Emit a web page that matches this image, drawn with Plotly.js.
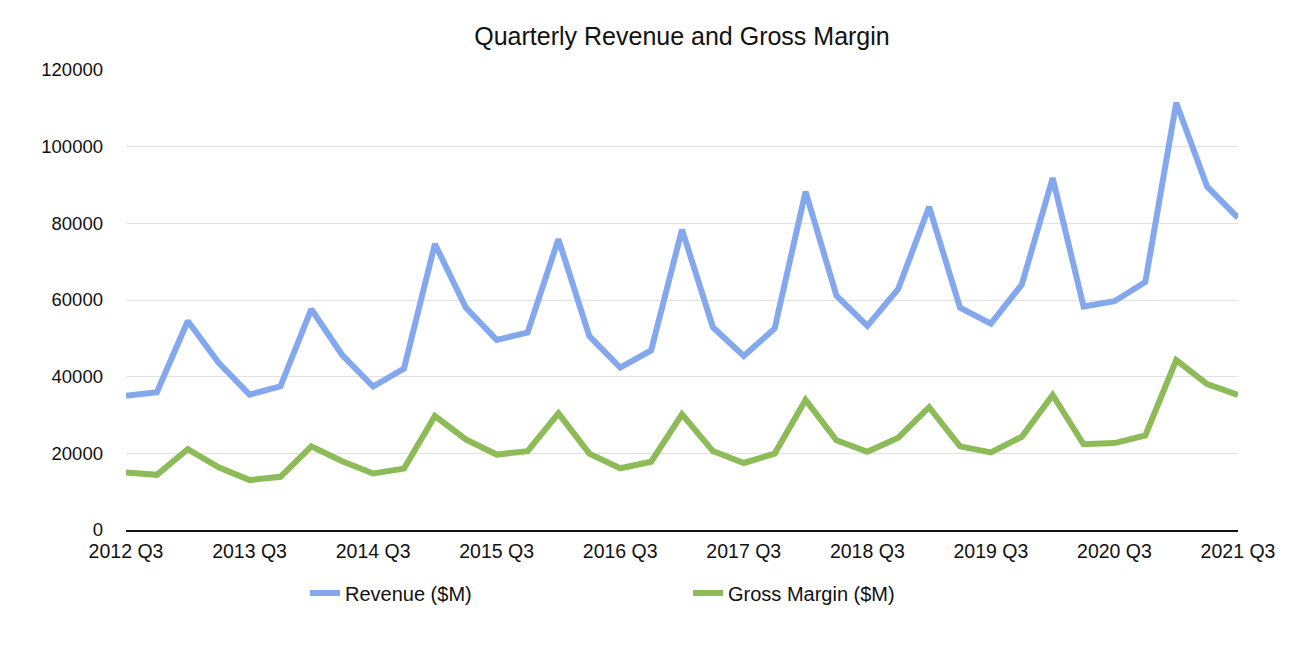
<!DOCTYPE html>
<html>
<head>
<meta charset="utf-8">
<script src="https://cdn.plot.ly/plotly-3.0.1.min.js"></script>
<style>html,body{margin:0;padding:0;background:#fff;}#chart{width:1312px;height:663px;}</style>
</head>
<body>
<div id="chart"></div>
<script>
const quarters = [
  "2012 Q3","2012 Q4",
  "2013 Q1","2013 Q2","2013 Q3","2013 Q4",
  "2014 Q1","2014 Q2","2014 Q3","2014 Q4",
  "2015 Q1","2015 Q2","2015 Q3","2015 Q4",
  "2016 Q1","2016 Q2","2016 Q3","2016 Q4",
  "2017 Q1","2017 Q2","2017 Q3","2017 Q4",
  "2018 Q1","2018 Q2","2018 Q3","2018 Q4",
  "2019 Q1","2019 Q2","2019 Q3","2019 Q4",
  "2020 Q1","2020 Q2","2020 Q3","2020 Q4",
  "2021 Q1","2021 Q2","2021 Q3"
];
const revenue = [
  35023, 35966,
  54512, 43603, 35323, 37472,
  57594, 45646, 37432, 42123,
  74599, 58010, 49605, 51501,
  75872, 50557, 42358, 46852,
  78351, 52896, 45408, 52579,
  88293, 61137, 53265, 62900,
  84310, 58015, 53809, 64040,
  91819, 58313, 59685, 64698,
  111439, 89584, 81434
];
const grossMargin = [
  14994, 14401,
  21060, 16349, 13024, 13871,
  21846, 17947, 14735, 16009,
  29741, 23656, 19681, 20548,
  30423, 19921, 16106, 17813,
  30176, 20591, 17488, 19931,
  33912, 23422, 20421, 24084,
  32031, 21821, 20227, 24313,
  35217, 22370, 22680, 24689,
  44328, 38079, 35255
];
const tickLabels = ["2012 Q3","2013 Q3","2014 Q3","2015 Q3","2016 Q3","2017 Q3","2018 Q3","2019 Q3","2020 Q3","2021 Q3"];
const yTicks = [0, 20000, 40000, 60000, 80000, 100000, 120000];

const idx = quarters.map((q, i) => i);
const tickVals = tickLabels.map(l => quarters.indexOf(l));

const font = "Liberation Sans, Arial, Helvetica, sans-serif";

const traces = [
  {x: idx, y: revenue, text: quarters, type: "scatter", mode: "lines", name: "Revenue ($M)",
   line: {color: "#84A8EE", width: 6}, hovertemplate: "%{text}: %{y}<extra></extra>"},
  {x: idx, y: grossMargin, text: quarters, type: "scatter", mode: "lines", name: "Gross Margin ($M)",
   line: {color: "#8CBB58", width: 6}, hovertemplate: "%{text}: %{y}<extra></extra>"}
];

const layout = {
  width: 1312, height: 663,
  paper_bgcolor: "#fff", plot_bgcolor: "#fff",
  font: {family: font, size: 18, color: "#111"},
  margin: {l: 126, r: 74, t: 70, b: 133, pad: 0},
  title: {text: "Quarterly Revenue and Gross Margin", font: {family: font, size: 25, color: "#111"},
          xref: "paper", x: 0.5, xanchor: "center", yref: "container", y: 1 - 36/663, yanchor: "middle"},
  xaxis: {range: [0, quarters.length - 1], tickmode: "array", tickvals: tickVals, ticktext: tickLabels,
          showgrid: false, zeroline: false, showline: true, linecolor: "#111", linewidth: 2,
          ticks: "", ticklabelstandoff: 3, tickfont: {size: 19.5, color: "#111"}, fixedrange: true},
  yaxis: {range: [0, 120000], tickmode: "array", tickvals: yTicks, ticktext: yTicks.map(String),
          showgrid: true, gridcolor: "#e2e2e2", gridwidth: 1, zeroline: false, showline: false,
          ticks: "", ticklabelstandoff: 22, tickfont: {size: 18.5, color: "#111"}, fixedrange: true},
  showlegend: true,
  legend: {orientation: "h", xref: "container", yref: "container", x: 305/1312, xanchor: "left",
           y: 1 - 593/663, yanchor: "middle", entrywidth: 338, entrywidthmode: "pixels",
           font: {size: 20, color: "#111"}, bgcolor: "rgba(0,0,0,0)"}
};

Plotly.newPlot("chart", traces, layout, {displayModeBar: false, staticPlot: true});
</script>
</body>
</html>
